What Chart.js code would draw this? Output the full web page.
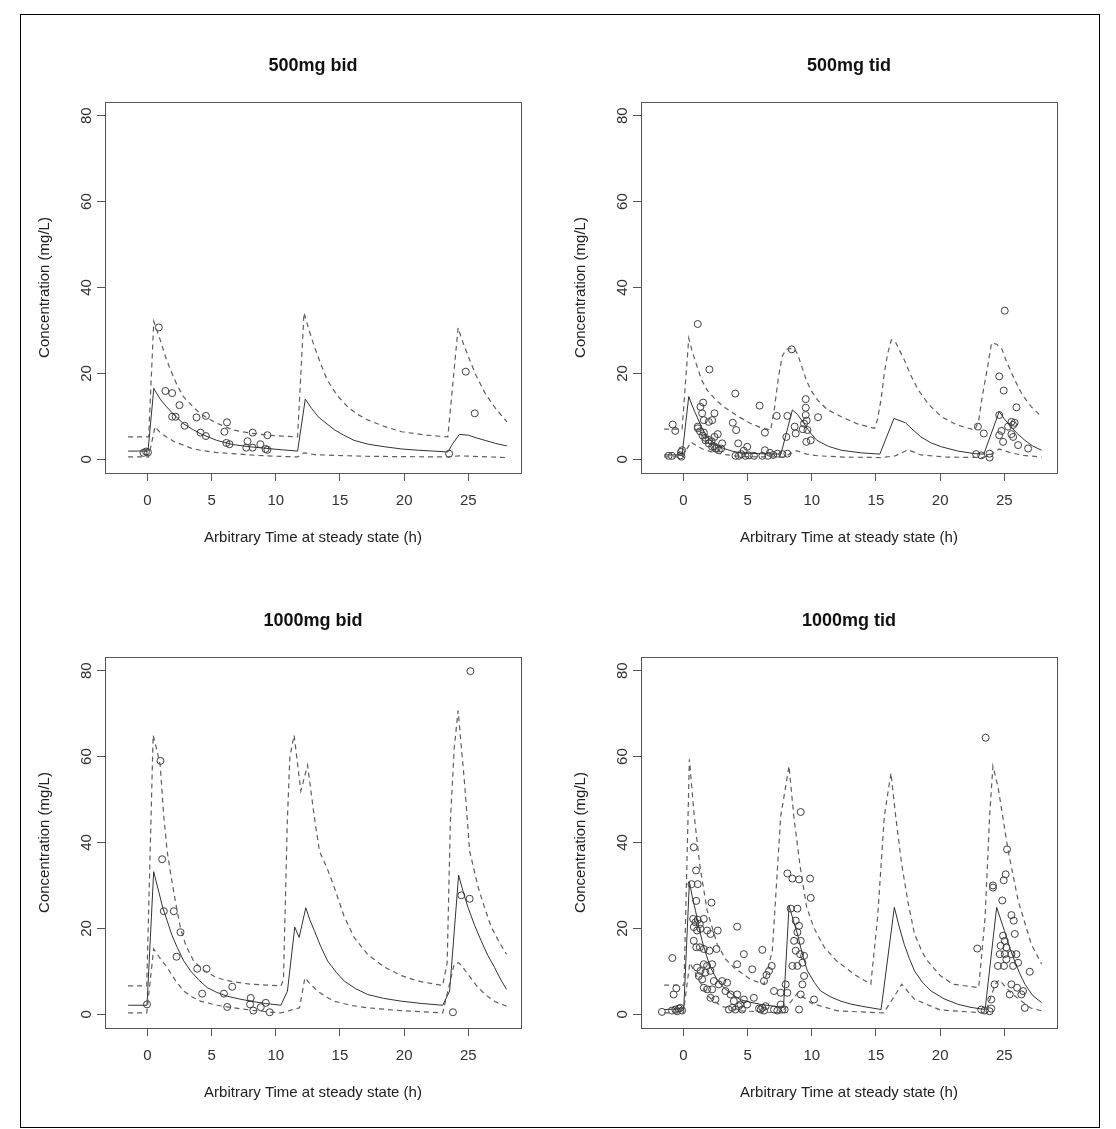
<!DOCTYPE html>
<html>
<head>
<meta charset="utf-8">
<script src="https://cdn.jsdelivr.net/npm/chart.js@4/dist/chart.umd.min.js"></script>
<style>
  html, body { margin: 0; padding: 0; background: #ffffff; }
  body { width: 1116px; height: 1129px; position: relative; overflow: hidden; }
  #frame { position: absolute; left: 20px; top: 14px; width: 1078px; height: 1112px; border: 1px solid #000; }
  canvas { position: absolute; }
</style>
</head>
<body>
<div id="frame"></div>
<canvas id="cA" width="530" height="520" style="left:20px;top:40px;"></canvas>
<canvas id="cB" width="530" height="520" style="left:556px;top:40px;"></canvas>
<canvas id="cC" width="530" height="520" style="left:20px;top:595px;"></canvas>
<canvas id="cD" width="530" height="520" style="left:556px;top:595px;"></canvas>
<script>
// ---------- shared labels / ticks ----------
const panelTitles = ['500mg bid', '500mg tid', '1000mg bid', '1000mg tid'];
const xTitle = 'Arbitrary Time at steady state (h)';
const yTitle = 'Concentration (mg/L)';
const xTicks = [0, 5, 10, 15, 20, 25];
const yTicks = [0, 20, 40, 60, 80];

// ---------- 500mg bid ----------
const medA_x = [-1.5, 0.05, 0.5, 1.0, 1.5, 2.0, 2.8, 3.5, 4.1, 5.4, 6.7, 8.0, 9.4, 10.5, 11.7, 12.3, 12.8, 13.3, 14.0, 14.6, 15.3, 16.1, 17.2, 18.5, 19.8, 21.1, 22.3, 23.4, 23.8, 24.3, 25.0, 25.6, 26.3, 27.1, 28.0];
const medA_y = [1.9, 1.9, 16.5, 14.0, 12.2, 10.6, 8.3, 7.0, 6.0, 4.4, 3.4, 2.9, 2.5, 2.2, 1.9, 14.0, 11.8, 9.9, 8.2, 6.8, 5.6, 4.4, 3.5, 2.9, 2.4, 2.1, 1.9, 1.7, 3.7, 5.8, 5.6, 5.0, 4.4, 3.7, 3.1];
const upA_x = [-1.5, 0.1, 0.5, 1.0, 1.4, 1.8, 2.3, 2.8, 3.5, 4.1, 4.8, 5.4, 6.7, 8.0, 9.4, 10.5, 11.7, 12.2, 12.6, 13.0, 13.5, 14.0, 14.8, 15.6, 16.4, 17.2, 18.5, 19.8, 21.5, 23.4, 24.2, 24.6, 25.0, 25.6, 26.3, 27.1, 28.0];
const upA_y = [5.2, 5.2, 32.1, 27.8, 24.0, 20.8, 17.4, 14.6, 12.4, 10.7, 9.4, 8.4, 6.8, 6.1, 5.6, 5.4, 5.2, 34.1, 30.0, 26.3, 22.2, 18.5, 14.8, 12.2, 10.4, 9.1, 7.6, 6.4, 5.7, 5.2, 30.6, 27.0, 23.9, 19.5, 15.4, 11.9, 8.7];
const lowA_x = [-1.5, 0.1, 0.6, 1.0, 1.5, 2.1, 2.8, 3.4, 4.1, 5.3, 6.7, 8.5, 10.0, 11.7, 12.2, 13.0, 14.5, 17.0, 20.0, 23.4, 24.3, 26.0, 28.0];
const lowA_y = [0.55, 0.55, 7.6, 6.2, 5.2, 4.1, 3.3, 2.6, 2.1, 1.6, 1.3, 0.9, 0.7, 0.55, 1.5, 1.1, 0.9, 0.7, 0.6, 0.55, 0.8, 0.6, 0.4];
const obsA_x = [-0.3, -0.1, 0.05, 0.89, 1.4, 1.93, 2.5, 1.93, 2.2, 2.9, 3.83, 4.56, 4.14, 4.56, 6.2, 6.0, 6.15, 6.4, 7.8, 8.2, 7.7, 8.2, 8.8, 9.35, 9.2, 9.35, 23.5, 24.8, 25.5];
const obsA_y = [1.5, 1.8, 1.6, 30.7, 15.9, 15.4, 12.6, 9.9, 9.9, 7.8, 9.75, 10.1, 6.2, 5.4, 8.6, 6.4, 3.8, 3.5, 4.2, 6.2, 2.7, 2.7, 3.5, 5.6, 2.4, 2.2, 1.3, 20.4, 10.7];

// ---------- 500mg tid ----------
const medB_x = [-1.5, -0.1, 0.42, 0.7, 0.94, 1.4, 1.85, 2.5, 3.15, 3.8, 4.45, 6.0, 7.6, 8.49, 8.9, 9.4, 9.9, 10.4, 11.3, 12.3, 13.8, 15.3, 16.4, 17.3, 17.9, 18.5, 19.3, 20.1, 21.4, 22.7, 23.4, 24.6, 25.0, 25.5, 26.0, 26.6, 27.2, 27.9];
const medB_y = [1.0, 1.0, 14.6, 12.4, 10.7, 7.6, 5.2, 3.5, 2.5, 1.9, 1.5, 1.3, 1.2, 11.5, 10.4, 8.3, 6.1, 4.4, 3.0, 2.1, 1.5, 1.2, 9.5, 8.5, 6.8, 5.2, 3.8, 2.9, 1.9, 1.3, 1.2, 11.1, 9.4, 7.6, 6.0, 4.4, 3.1, 2.1];
const upB_x = [-1.5, -0.1, 0.42, 0.7, 1.07, 1.4, 1.85, 2.5, 3.15, 4.2, 5.2, 6.0, 6.8, 7.1, 7.4, 7.7, 8.0, 8.6, 8.9, 9.2, 9.6, 10.0, 10.45, 11.2, 12.3, 13.5, 14.9, 15.1, 15.4, 15.65, 15.9, 16.2, 16.5, 16.8, 17.2, 17.7, 18.3, 19.1, 20.1, 21.3, 22.7, 23.0, 23.3, 23.7, 24.0, 24.4, 24.8, 25.2, 25.8, 26.4, 27.1, 27.9];
const upB_y = [7.0, 7.0, 28.2, 25.0, 21.6, 18.6, 16.1, 13.9, 12.2, 10.1, 8.4, 7.4, 6.8, 12.0, 19.0, 24.0, 25.6, 25.9, 24.5, 21.8, 18.2, 15.8, 13.8, 11.6, 9.9, 8.3, 7.2, 9.0, 14.0, 20.0, 24.5, 27.8, 27.4, 25.6, 23.2, 19.6, 16.1, 12.8, 9.9, 8.0, 6.8, 9.0, 15.0, 21.6, 27.1, 26.8, 25.7, 22.5, 18.5, 15.0, 12.2, 9.9];
const lowB_x = [-1.5, -0.1, 0.6, 1.0, 1.5, 2.2, 3.0, 4.0, 5.0, 7.8, 8.8, 9.6, 10.5, 12.5, 15.4, 16.5, 17.5, 18.0, 18.5, 20.5, 23.3, 24.0, 24.6, 25.5, 26.5, 27.9];
const lowB_y = [0.55, 0.55, 4.0, 3.2, 2.4, 1.7, 1.2, 0.8, 0.6, 0.5, 2.0, 1.2, 0.8, 0.5, 0.4, 0.8, 2.2, 1.6, 1.0, 0.5, 0.4, 1.2, 2.4, 1.5, 0.9, 0.5];
const obsB_x = [-1.15, -0.89, -0.83, -0.63, -0.23, -0.18, -0.1, -0.15,
  1.12, 2.03, 4.04, 5.94, 8.44,
  1.12, 1.12, 1.33, 1.54, 1.46, 1.59, 1.98, 2.42, 2.24, 2.68, 2.42, 1.72, 1.98, 2.24, 2.5, 2.76, 2.94, 3.02,
  1.3, 1.5, 1.7, 2.0, 2.2, 2.4, 2.6, 1.6,
  3.85, 4.11, 4.27, 4.06, 4.32, 4.84, 4.97, 5.1, 4.5, 4.7, 5.5, 6.6, 7.0,
  6.35, 6.35, 6.15, 6.74, 7.32, 7.71, 8.1, 7.27, 8.1, 8.02, 8.67, 8.75, 9.4, 9.53, 9.53, 9.53, 9.66, 9.58, 9.92, 10.49, 9.6, 9.3,
  25.03, 24.6, 24.95, 25.94, 22.94, 23.4, 22.8, 23.2, 23.85, 23.85, 24.6, 25.55, 25.68, 25.8, 25.55, 25.68, 24.77, 24.6, 24.9, 26.07, 26.85, 25.29];
const obsB_y = [0.8, 0.8, 8.1, 6.6, 0.9, 1.7, 2.1, 0.6,
  31.5, 20.9, 15.3, 12.5, 25.6,
  7.6, 7.2, 12.2, 13.2, 10.7, 9.1, 8.7, 10.7, 9.1, 5.85, 5.2, 4.4, 3.7, 2.9, 2.5, 2.1, 2.5, 3.7,
  6.5, 5.5, 5.0, 4.5, 4.2, 3.0, 2.6, 6.2,
  8.5, 6.8, 3.7, 0.8, 0.8, 0.8, 2.9, 0.9, 1.2, 2.0, 0.8, 0.8, 1.0,
  6.2, 2.1, 0.8, 1.5, 1.3, 1.2, 1.3, 10.1, 10.1, 5.2, 7.6, 6.0, 8.3, 14.0, 12.0, 10.3, 6.8, 4.05, 4.4, 9.8, 9.0, 7.0,
  34.6, 19.3, 16.0, 12.1, 7.6, 6.0, 1.2, 0.9, 1.3, 0.4, 10.3, 8.7, 8.0, 8.5, 5.85, 5.2, 6.6, 5.6, 4.05, 3.3, 2.5, 7.6];

// ---------- 1000mg bid ----------
const medC_x = [-1.5, -0.03, 0.49, 0.89, 1.2, 1.54, 1.9, 2.32, 2.8, 3.36, 4.0, 4.66, 5.4, 6.22, 7.1, 8.05, 9.2, 10.4, 10.91, 11.48, 11.82, 12.34, 12.65, 13.0, 13.5, 14.04, 14.7, 15.34, 16.2, 17.16, 18.4, 19.77, 21.4, 23.0, 23.54, 24.24, 24.6, 24.97, 25.5, 26.0, 26.5, 27.04, 27.5, 27.97];
const medC_y = [2.1, 2.1, 33.2, 28.5, 24.8, 21.8, 18.5, 15.6, 12.6, 10.1, 8.0, 6.2, 5.1, 4.2, 3.6, 3.05, 2.5, 2.1, 5.4, 20.3, 17.9, 24.8, 22.0, 19.5, 15.8, 12.4, 9.8, 7.7, 6.0, 4.6, 3.7, 3.05, 2.5, 2.1, 5.4, 32.4, 28.5, 24.9, 20.6, 17.1, 13.8, 10.9, 8.2, 5.8];
const upC_x = [-1.5, -0.05, 0.45, 0.7, 1.0, 1.28, 1.54, 1.8, 2.2, 2.58, 3.0, 3.6, 4.4, 5.4, 6.6, 8.0, 9.2, 10.4, 10.6, 10.9, 11.1, 11.43, 11.95, 12.48, 13.0, 13.4, 14.0, 14.55, 15.3, 16.1, 17.2, 18.5, 19.8, 21.1, 23.0, 23.35, 23.6, 23.9, 24.2, 24.7, 25.1, 25.76, 26.3, 26.8, 27.4, 27.97];
const upC_y = [6.6, 6.6, 65, 62, 58, 46, 38, 33, 26, 20, 16, 12.4, 10.2, 8.5, 7.6, 7.0, 6.8, 6.6, 8, 45, 60, 65, 52, 58, 46, 38, 34, 29.6, 23, 17.9, 13.8, 10.9, 9.0, 7.7, 6.7, 12, 45, 62, 70.7, 54, 38, 29.6, 24.5, 20.2, 16.8, 14.0];
const lowC_x = [-1.5, -0.05, 0.49, 1.0, 1.54, 2.2, 2.84, 3.5, 4.14, 5.4, 6.74, 8.5, 10.4, 11.85, 12.27, 12.7, 13.26, 13.9, 14.55, 15.8, 17.16, 19.5, 23.0, 23.9, 24.24, 24.6, 24.97, 25.6, 26.3, 27.1, 27.97];
const lowC_y = [0.3, 0.3, 15.2, 13.0, 10.9, 7.8, 5.4, 4.0, 3.05, 2.1, 1.5, 0.8, 0.3, 1.5, 8.5, 7.0, 5.4, 4.1, 3.05, 2.1, 1.5, 0.9, 0.3, 11.7, 12.0, 10.8, 9.3, 6.8, 4.6, 2.9, 1.9];
const obsC_x = [-0.03, 1.15, 1.02, 1.28, 2.06, 2.58, 2.27, 3.88, 4.61, 4.27, 5.96, 6.61, 6.22, 8.05, 8.0, 8.25, 8.83, 9.22, 9.53, 23.8, 24.45, 25.1, 25.16];
const obsC_y = [2.3, 36.1, 59.0, 24.0, 24.0, 19.1, 13.4, 10.6, 10.6, 4.8, 4.8, 6.4, 1.7, 3.8, 2.3, 0.86, 1.64, 2.66, 0.47, 0.47, 27.7, 26.9, 79.9];

// ---------- 1000mg tid ----------
const medD_x = [-1.5, 0.03, 0.47, 0.7, 0.94, 1.2, 1.46, 1.8, 2.11, 2.6, 3.15, 3.8, 4.45, 5.2, 6.02, 7.0, 7.8, 8.23, 8.55, 8.88, 9.25, 9.66, 10.2, 10.7, 11.5, 12.27, 13.0, 13.83, 15.4, 16.43, 16.8, 17.2, 17.6, 18.0, 18.6, 19.3, 20.3, 21.4, 22.4, 23.5, 24.4, 25.0, 25.4, 25.8, 26.2, 26.6, 27.2, 27.9];
const medD_y = [1.1, 1.3, 30.8, 27.3, 24.2, 20.4, 17.1, 13.7, 10.9, 8.2, 6.2, 4.6, 3.4, 2.8, 2.3, 1.9, 1.6, 25.3, 22.0, 18.7, 14.2, 10.1, 7.4, 5.4, 4.0, 3.05, 2.4, 1.9, 1.1, 24.9, 20.5, 16.3, 13.0, 10.1, 7.5, 5.4, 3.6, 2.3, 1.6, 1.1, 24.9, 19.5, 15.7, 12.4, 9.5, 7.0, 4.4, 2.7];
const upD_x = [-1.5, 0.05, 0.47, 0.85, 1.3, 1.85, 2.63, 3.3, 3.93, 5.23, 6.28, 6.93, 7.58, 8.23, 8.6, 9.1, 9.6, 10.18, 11.0, 11.9, 13.3, 14.6, 15.13, 15.65, 16.17, 16.5, 17.0, 17.5, 18.0, 18.6, 19.0, 20.0, 21.0, 23.0, 23.5, 23.85, 24.11, 24.5, 24.77, 25.29, 26.07, 27.1, 27.9];
const upD_y = [6.8, 6.8, 59.4, 46.0, 34.3, 24.2, 16.3, 12.8, 10.9, 8.1, 7.0, 14.8, 46.1, 57.8, 46.1, 34.3, 25.0, 20.0, 15.5, 12.5, 9.3, 7.0, 22.6, 46.1, 56.2, 47.0, 35.0, 26.0, 18.7, 14.5, 12.5, 9.0, 7.0, 6.2, 22.6, 46.1, 57.8, 53.0, 48.0, 38.2, 26.5, 16.3, 11.7];
const lowD_x = [-1.5, 0.0, 0.5, 1.2, 2.0, 3.0, 4.5, 7.6, 8.4, 8.9, 10.0, 12.0, 15.6, 16.6, 17.0, 18.0, 20.0, 23.5, 24.3, 24.6, 25.5, 27.0, 27.9];
const lowD_y = [0.3, 0.3, 12.0, 8.0, 4.0, 1.8, 0.8, 0.3, 3.0, 5.0, 2.5, 0.8, 0.3, 5.0, 7.0, 3.5, 1.0, 0.3, 7.0, 8.0, 5.0, 1.5, 0.8];
const obsD_x = [0.81, 0.99, 0.63, 1.12, 1.0, 2.19,
  0.76, 0.94, 1.12, 1.28, 1.59, 0.81, 1.07, 1.33, 1.85, 2.11, 2.68,
  0.81, 1.0, 1.28, 1.59, 2.03, 2.58, 4.19, -0.86,
  1.07, 1.33, 1.59, 1.85, 2.24, 1.2, 1.46, 1.72, 2.11, 2.37, 2.24, 2.76, 3.02, 3.41, 3.28, 2.5, 2.11, 1.85, 1.59,
  4.19, 4.71, 5.36, 6.15, 6.67, 6.48, 6.28, 6.88,
  3.67, 3.93, 4.19, 4.45, 4.71, 4.97, 5.49, 3.8, 4.06, 4.32, 4.58, 3.54,
  6.02, 6.15, 6.28, 5.89, 6.41, 7.06, 7.32, 7.71, 7.89,
  7.06, 7.58, 7.97, 8.1, 7.58,
  -1.67, -0.89, -0.63, -0.36, -0.1, -0.49, -0.23, -0.76, -0.55,
  9.14, 8.1, 8.49, 9.01, 9.87, 9.92, 8.36, 8.88,
  8.75, 9.01, 8.88, 8.62, 9.14, 8.75, 9.09, 9.4, 8.88, 8.49, 9.27,
  9.4, 9.27, 9.14, 10.18, 9.01,
  23.54, 25.21, 25.1, 24.95, 24.11, 24.11, 24.84, 25.55, 25.73, 22.89, 25.81,
  24.9, 24.71, 25.03, 25.16, 24.64, 25.03, 25.55, 25.94, 24.5, 24.97, 25.68, 26.07, 25.16,
  26.98, 24.24, 25.55, 25.99, 26.46, 25.42, 26.33, 26.59, 23.2, 23.46, 23.85, 23.98, 23.98];
const obsD_y = [38.9, 33.5, 30.3, 30.3, 26.4, 26.0,
  22.2, 21.4, 22.0, 21.0, 22.2, 20.3, 19.5, 19.9, 19.5, 18.7, 19.5,
  17.1, 15.6, 15.6, 15.2, 14.8, 15.2, 20.4, 13.1,
  10.87, 10.09, 11.65, 11.26, 11.65, 8.91, 8.13, 9.7, 10.09, 7.74, 5.79, 6.96, 7.74, 7.35, 5.4, 3.44, 3.83, 5.79, 6.18,
  11.65, 14.0, 10.48, 15.0, 10.09, 9.15, 7.74, 11.26,
  4.61, 3.05, 4.61, 2.27, 3.44, 2.27, 3.83, 1.49, 1.1, 1.88, 1.1, 1.1,
  1.1, 1.49, 0.86, 1.33, 1.88, 1.1, 0.86, 1.1, 1.1,
  5.4, 5.0, 6.96, 5.0, 2.27,
  0.55, 0.86, 1.1, 1.33, 0.86, 0.7, 1.49, 4.61, 6.02,
  47.1, 32.8, 31.6, 31.4, 31.6, 27.1, 24.6, 24.6,
  21.8, 20.6, 19.1, 17.1, 17.1, 14.8, 14.0, 13.6, 11.26, 11.26, 12.0,
  8.91, 6.96, 4.61, 3.44, 1.1,
  64.4, 38.4, 32.6, 31.2, 30.0, 29.5, 26.5, 23.1, 21.8, 15.3, 18.7,
  18.3, 15.95, 17.1, 15.56, 14.0, 14.0, 14.0, 14.0, 11.26, 11.26, 11.26, 12.0, 12.8,
  9.9, 6.96, 6.96, 6.18, 5.4, 4.61, 4.61, 1.49, 1.1, 0.86, 0.7, 1.33, 3.44];

// ---------- rendering ----------
const FONT = '"Liberation Sans", Arial, Helvetica, sans-serif';
const toXY = (xs, ys) => xs.map((x, i) => ({ x: x, y: ys[i] }));

const boxPlugin = {
  id: 'rbox',
  afterLayout(chart) {
    // centre the panel title over the plotting region, as R does
    const tb = chart.titleBlock, a = chart.chartArea;
    if (tb && a) { tb.left = a.left; tb.right = a.right; tb.width = a.right - a.left; }
  },
  afterDraw(chart) {
    const a = chart.chartArea, ctx = chart.ctx;
    ctx.save();
    ctx.strokeStyle = '#555';
    ctx.lineWidth = 1;
    ctx.strokeRect(Math.round(a.left) + 0.5, Math.round(a.top) + 0.5, Math.round(a.right - a.left), Math.round(a.bottom - a.top));
    ctx.restore();
  }
};

function makePanel(canvasId, title, med, up, low, obs) {
  const curve = (pts, dashed) => ({
    data: pts, showLine: true, pointRadius: 0, pointHoverRadius: 0, tension: 0,
    borderColor: dashed ? '#5e5e5e' : '#333', borderWidth: dashed ? 1.2 : 1,
    borderDash: dashed ? [5, 4] : [], fill: false
  });
  new Chart(document.getElementById(canvasId), {
    type: 'scatter',
    data: {
      datasets: [
        curve(up, true),
        curve(low, true),
        curve(med, false),
        { data: obs, showLine: false, pointRadius: 3.5, pointHoverRadius: 3.5, pointStyle: 'circle',
          borderColor: '#3f3f3f', borderWidth: 1, backgroundColor: 'rgba(0,0,0,0)' }
      ]
    },
    options: {
      responsive: false, animation: false, devicePixelRatio: 1,
      layout: { padding: { left: 0, right: 29, top: 0, bottom: 0 } },
      plugins: {
        legend: { display: false }, tooltip: { enabled: false },
        title: { display: true, text: title, color: '#111', font: { family: FONT, size: 18, weight: 'bold', lineHeight: 1.2 }, padding: { top: 15.2, bottom: 25.2 } }
      },
      scales: {
        x: {
          type: 'linear', min: -3.3, max: 29.1,
          afterBuildTicks: s => { s.ticks = xTicks.map(v => ({ value: v })); },
          afterFit: s => { s.height = 87; },
          grid: { drawOnChartArea: false, drawTicks: true, tickLength: 8, color: '#555', lineWidth: 1 },
          border: { display: false },
          ticks: { padding: 11, color: '#333', font: { family: FONT, size: 15 }, maxRotation: 0, autoSkip: false },
          title: { display: true, text: xTitle, color: '#222', font: { family: FONT, size: 15, lineHeight: 1.2 }, padding: { top: 0, bottom: 13 } }
        },
        y: {
          type: 'linear', min: -3.2, max: 83.2,
          afterBuildTicks: s => { s.ticks = yTicks.map(v => ({ value: v })); },
          afterFit: s => { s.width = 85; },
          grid: { drawOnChartArea: false, drawTicks: true, tickLength: 8, color: '#555', lineWidth: 1 },
          border: { display: false },
          ticks: { padding: 2, color: '#333', font: { family: FONT, size: 15 }, minRotation: 90, maxRotation: 90, crossAlign: 'center', autoSkip: false },
          title: { display: true, text: yTitle, color: '#222', font: { family: FONT, size: 15, lineHeight: 1.2 }, padding: { top: 16, bottom: 0 } }
        }
      }
    },
    plugins: [boxPlugin]
  });
}

makePanel('cA', panelTitles[0], toXY(medA_x, medA_y), toXY(upA_x, upA_y), toXY(lowA_x, lowA_y), toXY(obsA_x, obsA_y));
makePanel('cB', panelTitles[1], toXY(medB_x, medB_y), toXY(upB_x, upB_y), toXY(lowB_x, lowB_y), toXY(obsB_x, obsB_y));
makePanel('cC', panelTitles[2], toXY(medC_x, medC_y), toXY(upC_x, upC_y), toXY(lowC_x, lowC_y), toXY(obsC_x, obsC_y));
makePanel('cD', panelTitles[3], toXY(medD_x, medD_y), toXY(upD_x, upD_y), toXY(lowD_x, lowD_y), toXY(obsD_x, obsD_y));
</script>
</body>
</html>
